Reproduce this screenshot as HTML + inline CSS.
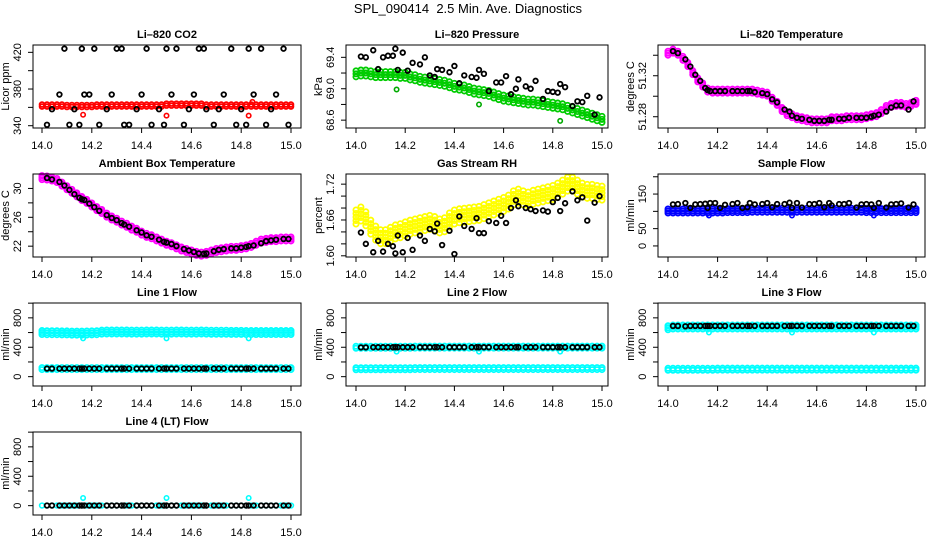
<!DOCTYPE html>
<html><head><meta charset="utf-8"><style>
body{margin:0;background:#fff}
svg{display:block;font-family:"Liberation Sans",Arial,sans-serif}
</style></head><body>
<svg id="chart" width="936" height="540" viewBox="0 0 936 540">
<rect width="936" height="540" fill="#fff"/>
<text x="468" y="13" font-size="13" text-anchor="middle" style="white-space:pre">SPL_090414  2.5 Min. Ave. Diagnostics</text>
</svg>
<script>
const T=[14.02,14.04,14.07,14.09,14.11,14.13,14.15,14.16,14.17,14.19,14.21,14.23,14.26,14.28,14.30,14.32,14.33,14.35,14.38,14.40,14.42,14.44,14.47,14.49,14.50,14.52,14.54,14.57,14.59,14.61,14.63,14.65,14.66,14.69,14.71,14.73,14.76,14.78,14.80,14.82,14.83,14.85,14.88,14.90,14.92,14.94,14.97,14.99];
const xTicks=[14.0,14.2,14.4,14.6,14.8,15.0];
const xTickLabels=["14.0","14.2","14.4","14.6","14.8","15.0"];
const outT=[14.165,14.50,14.83];

const co2Black=[341,358,374,424,341,358,341,424,374,374,424,341,358,374,424,424,341,341,358,374,424,341,358,341,424,374,424,341,358,374,424,424,358,341,358,374,424,341,358,341,424,374,424,341,358,374,424,341];
const co2Red=[362,362,362,362,362,361.5,361.5,361.5,361.5,361.5,361.5,362,362,362,362,362,362,362,362,362,362,362,362,362,362,363,363,363,363,363,363,363,363,362,362,362,362,362,362,362,362,362,362,362,362,362,362,362,362,362,362];
const co2RedOutT=[14.165,14.50,14.83,14.845];
const co2RedOut=[352,351,351,366];

const presBlack=[69.41,69.40,69.49,69.25,69.40,69.42,69.42,69.51,69.24,69.46,69.23,69.33,69.31,69.40,69.17,69.15,69.25,69.24,69.21,69.29,69.07,69.17,69.15,69.14,69.24,69.19,68.97,69.08,69.08,69.16,68.93,69.00,69.12,69.03,69.00,69.10,68.87,68.97,68.96,68.95,69.06,69.02,68.78,68.84,68.83,68.91,68.67,68.89];
const presGreen=[69.19,69.20,69.20,69.19,69.18,69.18,69.18,69.18,69.18,69.17,69.17,69.15,69.14,69.12,69.11,69.10,69.09,69.08,69.07,69.05,69.03,69.02,69.01,68.99,68.97,68.96,68.95,68.94,68.92,68.90,68.88,68.87,68.86,68.85,68.84,68.83,68.83,68.82,68.81,68.80,68.79,68.78,68.77,68.75,68.73,68.71,68.69,68.67,68.65,68.63,68.61];
const presGreenOut=[68.99,68.80,68.59];

const tempMag=[51.342,51.344,51.342,51.337,51.331,51.323,51.316,51.311,51.306,51.305,51.305,51.305,51.305,51.305,51.305,51.305,51.305,51.305,51.304,51.303,51.302,51.297,51.293,51.287,51.283,51.281,51.279,51.278,51.277,51.276,51.276,51.276,51.276,51.278,51.278,51.278,51.279,51.279,51.279,51.279,51.280,51.281,51.282,51.285,51.289,51.291,51.292,51.292,51.291,51.292,51.294];
const tempBlack=[51.344,51.342,51.336,51.329,51.321,51.315,51.308,51.306,51.305,51.305,51.305,51.305,51.305,51.305,51.305,51.305,51.305,51.304,51.303,51.302,51.297,51.294,51.287,51.285,51.281,51.279,51.278,51.277,51.276,51.276,51.276,51.277,51.277,51.278,51.278,51.279,51.279,51.279,51.279,51.280,51.281,51.282,51.285,51.289,51.291,51.291,51.287,51.295];

const ambMag=[31.5,31.45,31.3,31.1,30.6,30.1,29.6,29.1,28.6,28.2,27.7,27.2,26.8,26.3,25.9,25.6,25.2,24.9,24.5,24.2,23.8,23.5,23.3,23.0,22.7,22.4,22.2,21.9,21.6,21.4,21.2,21.0,20.9,21.0,21.2,21.4,21.5,21.6,21.7,21.7,21.8,21.9,22.1,22.4,22.7,22.8,22.9,22.9,23.0,23.0,23.0];
const ambBlack=[31.45,31.25,30.9,30.4,29.8,29.2,28.7,28.5,28.4,27.9,27.4,26.9,26.3,25.9,25.6,25.2,25.0,24.7,24.2,23.9,23.5,23.3,22.9,22.6,22.5,22.3,22.0,21.6,21.4,21.2,21.0,20.95,21.0,21.3,21.5,21.6,21.7,21.7,21.8,21.9,22.0,22.1,22.4,22.7,22.8,22.9,23.0,23.0];

const rhYellow=[1.665,1.670,1.662,1.648,1.638,1.632,1.632,1.636,1.640,1.642,1.645,1.648,1.650,1.652,1.654,1.656,1.654,1.650,1.652,1.660,1.665,1.667,1.668,1.669,1.670,1.671,1.674,1.677,1.680,1.683,1.686,1.690,1.697,1.700,1.697,1.695,1.698,1.700,1.702,1.704,1.706,1.710,1.715,1.720,1.720,1.715,1.710,1.708,1.708,1.706,1.705];
const rhBlack=[1.639,1.620,1.606,1.625,1.607,1.620,1.616,1.604,1.634,1.606,1.630,1.610,1.634,1.625,1.645,1.641,1.654,1.618,1.642,1.603,1.666,1.650,1.645,1.663,1.638,1.638,1.658,1.655,1.667,1.655,1.680,1.693,1.683,1.680,1.678,1.675,1.676,1.674,1.690,1.697,1.675,1.688,1.708,1.693,1.698,1.659,1.689,1.700];

const sfBlue=[101,101,101,101,101,101,101,101,101,101,101,101,102,102,102,102,102,103,103,103,103,103,103,103,103,103,103,103,103,103,103,103,103,103,103,103,103,103,103,103,102,102,102,102,102,102,102,102,102,102,102];
const sfBlueOut=[88,88,88];
const sfBlack=[120,121,124,110,120,121,122,110,124,124,110,119,121,124,110,112,124,120,121,124,112,121,121,125,110,124,111,121,121,124,112,124,117,121,121,124,111,120,121,120,110,124,111,120,121,123,111,120];

const l1Hi=[600,598,598,598,595,595,592,592,592,594,596,598,605,608,608,608,608,608,606,606,606,608,608,608,606,606,606,608,608,606,606,606,608,606,604,604,604,604,602,602,602,600,600,600,600,600,600,600,600,600,600];
const l1HiOut=[520,520,520];
const l1Lo=[110,110,110,110,110,110,110,110,110,110,110,110,110,110,110,110,110,110,110,110,110,110,110,110,110,110,110,110,110,110,110,110,110,110,110,110,110,110,110,110,110,110,110,110,110,110,110,110,110,110,110];
const l1Black=[110,110,110,110,110,110,110,110,110,110,110,110,110,110,110,110,110,110,110,110,110,110,110,110,110,110,110,110,110,110,110,110,110,110,110,110,110,110,110,110,110,110,110,110,110,110,110,110];

const l2Hi=[400,400,400,400,400,400,400,400,400,400,400,400,402,402,402,402,402,402,402,402,402,402,402,402,402,402,402,402,402,402,402,402,402,402,402,402,402,402,402,402,402,402,402,402,402,402,402,402,402,402,402];
const l2HiOut=[340,340,340];
const l2Lo=[108,108,108,108,108,108,108,108,108,108,108,108,110,110,110,110,110,110,110,110,110,110,110,110,110,110,110,110,110,110,110,110,110,110,110,110,110,110,110,110,110,110,110,110,110,110,110,110,110,110,110];
const l2Black=[398,398,400,400,400,400,400,400,400,400,400,400,400,400,400,400,400,400,400,400,400,400,400,400,400,400,400,400,400,400,400,400,400,400,400,400,400,400,400,400,400,400,400,400,400,400,400,400];

const l3Hi=[665,675,675,675,675,675,675,675,675,675,675,675,675,675,675,675,675,675,675,675,675,675,675,675,675,675,675,675,675,675,675,675,675,675,675,675,675,675,675,675,675,675,675,675,675,675,675,675,675,675,675];
const l3HiOut=[600,600,600];
const l3Lo=[100,100,100,100,100,100,100,100,100,100,102,102,102,102,102,102,102,102,102,102,102,102,102,102,102,102,102,102,102,102,102,102,102,102,102,102,102,102,102,102,102,102,102,102,102,102,102,102,102,102,102];
const l3Black=[690,690,685,690,690,690,690,690,690,690,690,690,690,690,690,690,690,690,690,690,690,690,690,690,690,690,690,690,690,690,690,690,690,690,690,690,690,690,690,690,690,690,690,690,690,690,690,690];

const l4Cyan=[2,2,2,2,2,2,2,2,2,2,2,2,2,2,2,2,2,2,2,2,2,2,2,2,2,2,2,2,2,2,2,2,2,2,2,2,2,2,2,2,2,2,2,2,2,2,2,2,2,2,2];
const l4CyanOut=[105,105,105];
const l4Black=[2,2,2,2,2,2,2,2,2,2,2,2,2,2,2,2,2,2,2,2,2,2,2,2,2,2,2,2,2,2,2,2,2,2,2,2,2,2,2,2,2,2,2,2,2,2,2,2];

const co2Ticks=[340,360,380,400,420], co2Labels=["340","","380","","420"];
const presTicks=[68.6,68.8,69.0,69.2,69.4], presLabels=["68.6","","69.0","","69.4"];
const tempTicks=[51.28,51.30,51.32,51.34], tempLabels=["51.28","","51.32",""];
const ambTicks=[22,24,26,28,30], ambLabels=["22","","26","","30"];
const rhTicks=[1.60,1.62,1.64,1.66,1.68,1.70,1.72], rhLabels=["1.60","","","1.66","","","1.72"];
const sfTicks=[0,50,100,150,200], sfLabels=["0","50","","150",""];
const flTicks=[0,200,400,600,800,1000], flLabels=["0","","400","","800",""];

const NS="http://www.w3.org/2000/svg";
const svg=document.getElementById('chart');
const cols=[{x0:33,x1:301,xa:42,xb:291},{x0:346,x1:608,xa:356,xb:602},{x0:658,x1:925,xa:668,xb:916}];
const rows=[45,174,303,432];
const H=83;
function mk(tag,attrs,parent){const e=document.createElementNS(NS,tag);for(const k in attrs)e.setAttribute(k,attrs[k]);(parent||svg).appendChild(e);return e;}
function denseT(n){const a=[];for(let i=0;i<n;i++)a.push(14+i/(n-1));return a;}

function panel(name,title,ylab,col,row,lo,hi,ticks,labels){
  const c=cols[col],y0=rows[row],y1=y0+H;
  const g=mk('g',{});
  
  
  const p={g:g,x:t=>c.xa+(t-14)*(c.xb-c.xa),y:v=>y1-(v-lo)/(hi-lo)*H,c:c,y0:y0,y1:y1};
  const tt=mk('text',{x:(c.x0+c.x1)/2,y:y0-7,'font-size':11,'font-weight':'bold','text-anchor':'middle'},g);
  tt.textContent=title;
  
  
  xTicks.forEach((t,i)=>{
    const X=p.x(t);
    mk('line',{x1:X,x2:X,y1:y1,y2:y1+5,stroke:'#000','stroke-width':1},g);
    const l=mk('text',{x:X,y:y1+21,'font-size':11,'text-anchor':'middle'},g);
    l.textContent=xTickLabels[i];
    
    
  });
  ticks.forEach((v,i)=>{
    const Y=p.y(v);
    mk('line',{x1:c.x0-5,x2:c.x0,y1:Y,y2:Y,stroke:'#000','stroke-width':1},g);
    if(labels[i]){
      const l=mk('text',{x:c.x0-12,y:Y,'font-size':11,'text-anchor':'middle',transform:`rotate(-90 ${c.x0-12} ${Y})`},g);
      l.textContent=labels[i];
      
      
    }
  });
  const yl=mk('text',{x:c.x0-24,y:(y0+y1)/2,'font-size':11,'text-anchor':'middle',transform:`rotate(-90 ${c.x0-24} ${(y0+y1)/2})`},g);
  yl.textContent=ylab;
  
  
  p.marks=mk('g',{},g);
  const b=mk('rect',{x:c.x0,y:y0,width:c.x1-c.x0,height:H,fill:'none',stroke:'#000','stroke-width':1},g);
  
  
  return p;
}
function pts(p,ts,vs,color,r,sw,offs,nm){
  const g=mk('g',{fill:'none',stroke:color,'stroke-width':sw},p.marks);
  
  
  vs.forEach((v,i)=>{
    (offs||[0]).forEach(o=>{
      const e=mk('circle',{cx:p.x(ts[i]),cy:p.y(v)+o,r:r},g);
      
      
    });
  });
}
const D=denseT(51);
const BK=(p,vs)=>pts(p,T,vs,'#000',2.3,1.8,null,'black-series');

let p=panel('co2','Li\u2013820 CO2','Licor ppm',0,0,337.5,428,co2Ticks,co2Labels);
pts(p,D,co2Red,'#ff0000',2.4,1.8,[-1,1],'red-series');
pts(p,co2RedOutT,co2RedOut,'#ff0000',2.2,1.6,null,'red-outliers');
BK(p,co2Black);

p=panel('pressure','Li\u2013820 Pressure','kPa',1,0,68.50,69.557,presTicks,presLabels);
pts(p,D,presGreen,'#00cc00',2.6,1.8,[-3,0,3],'green-series');
pts(p,outT,presGreenOut,'#00aa00',2.2,1.6,null,'green-outliers');
BK(p,presBlack);

p=panel('li820-temp','Li\u2013820 Temperature','degrees C',2,0,51.269,51.350,tempTicks,tempLabels);
pts(p,D,tempMag,'#ff00ff',2.6,1.8,[-2,0,2],'magenta-series');
BK(p,tempBlack);

p=panel('ambient-temp','Ambient Box Temperature','degrees C',0,1,20.5,32.0,ambTicks,ambLabels);
pts(p,D,ambMag,'#ff00ff',2.6,1.8,[-2,0,2],'magenta-series');
BK(p,ambBlack);

p=panel('gas-rh','Gas Stream RH','percent',1,1,1.598,1.737,rhTicks,rhLabels);
pts(p,D,rhYellow,'#ffff00',2.6,1.8,[-7,-3.5,0,3.5,7],'yellow-series');
BK(p,rhBlack);

p=panel('sample-flow','Sample Flow','ml/min',2,1,-32,208,sfTicks,sfLabels);
pts(p,D,sfBlue,'#0000ff',2.6,1.8,[-2,0,2],'blue-series');
pts(p,outT,sfBlueOut,'#0000ff',2.2,1.6,null,'blue-outliers');
BK(p,sfBlack);

p=panel('line1-flow','Line 1 Flow','ml/min',0,2,-127,1002,flTicks,flLabels);
pts(p,D,l1Hi,'#00ffff',2.6,1.8,[-2,0,2],'cyan-high-series');
pts(p,outT,l1HiOut,'#00ffff',2.2,1.6,null,'cyan-outliers');
pts(p,D,l1Lo,'#00ffff',2.6,1.8,[-1,1],'cyan-low-series');
BK(p,l1Black);

p=panel('line2-flow','Line 2 Flow','ml/min',1,2,-127,1002,flTicks,flLabels);
pts(p,D,l2Hi,'#00ffff',2.6,1.8,[-1,1],'cyan-high-series');
pts(p,outT,l2HiOut,'#00ffff',2.2,1.6,null,'cyan-outliers');
pts(p,D,l2Lo,'#00ffff',2.6,1.8,[-1,1],'cyan-low-series');
BK(p,l2Black);

p=panel('line3-flow','Line 3 Flow','ml/min',2,2,-127,1002,flTicks,flLabels);
pts(p,D,l3Hi,'#00ffff',2.6,1.8,[-2,0,2],'cyan-high-series');
pts(p,outT,l3HiOut,'#00ffff',2.2,1.6,null,'cyan-outliers');
pts(p,D,l3Lo,'#00ffff',2.6,1.8,[-1,1],'cyan-low-series');
BK(p,l3Black);

p=panel('line4-flow','Line 4 (LT) Flow','ml/min',0,3,-127,1002,flTicks,flLabels);
pts(p,D,l4Cyan,'#00ffff',2.4,1.6,null,'cyan-series');
BK(p,l4Black);
pts(p,outT,l4CyanOut,'#00ffff',2.2,1.6,null,'cyan-outliers');
</script>
</body></html>
